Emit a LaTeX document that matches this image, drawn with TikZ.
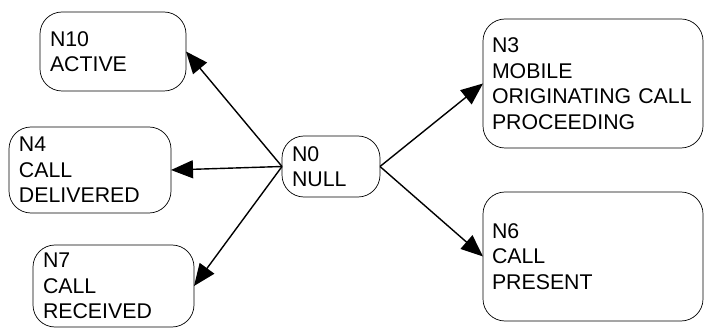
\documentclass[tikz,border=0pt]{standalone}
\usepackage{fontspec}
\setmainfont{Liberation Sans}
\usetikzlibrary{shapes,arrows,positioning,arrows.meta}

\begin{document}
\begin{tikzpicture}[x=1pt, y=1pt, ->, >={Triangle[length=22pt, width=18pt]},
  statebox/.style={draw, rounded corners=22pt, line width=0.7pt, inner xsep=10pt, inner ysep=0pt,
    outer sep=0pt, align=left, font=\fontsize{21.3}{25.5}\selectfont}]
\useasboundingbox (0,0) rectangle (704,327);

\node[statebox, text width=126pt, minimum height=79pt] (n10) at (113,275.5) {N10\\ACTIVE};
\node[statebox, text width=142pt, minimum height=86pt] (n4) at (90,157) {N4\\CALL\\DELIVERED};
\node[statebox, text width=78pt, minimum height=61pt] (n0) at (331,160.5) {N0\\NULL};
\node[statebox, text width=141pt, minimum height=82pt] (n7) at (113.5,41) {N7\\CALL\\RECEIVED};
\node[statebox, inner xsep=9pt, text width=202pt, minimum height=129pt] (n3) at (593,243.5) {N3\\MOBILE\\ORIGINATING CALL\\PROCEEDING};
\node[statebox, inner xsep=9pt, text width=202pt, minimum height=129pt] (n6) at (593,70.5) {N6\\CALL\\PRESENT};

\path[line width=1.4pt]
  (n0.west) edge (n10.east)
  (n0.west) edge (n4.east)
  (n0.west) edge (n7.east)
  (n0.east) edge (n3.west)
  (n0.east) edge (n6.west)
;
\end{tikzpicture}
\end{document}
